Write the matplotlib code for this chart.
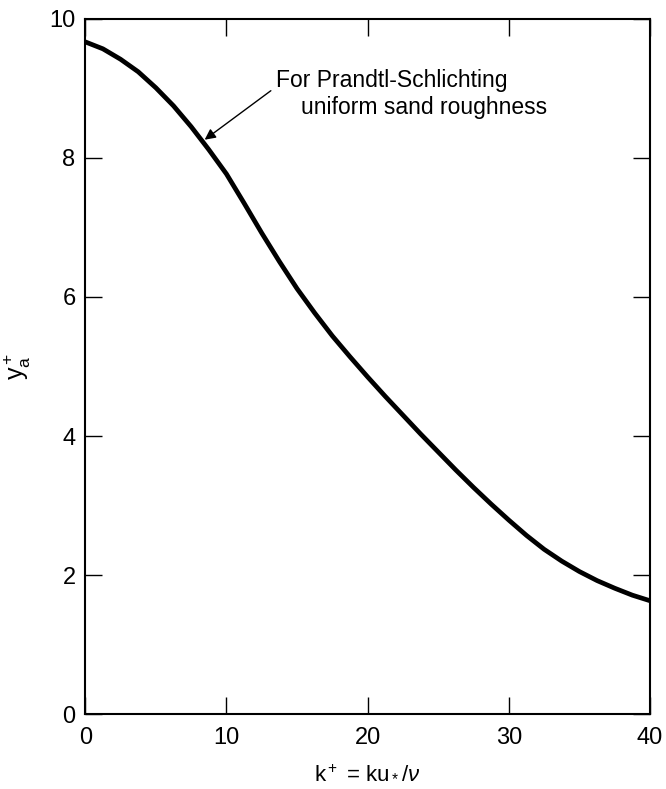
import matplotlib
matplotlib.use('Agg')
import matplotlib.pyplot as plt
import numpy as np

plt.rcParams['font.family'] = ['Liberation Sans', 'DejaVu Sans']
plt.rcParams['mathtext.fontset'] = 'custom'
plt.rcParams['mathtext.rm'] = 'Liberation Sans'
plt.rcParams['mathtext.it'] = 'Liberation Sans:italic'

# roughness Reynolds number k+ and the corresponding y_a+ (Prandtl-Schlichting sand roughness)
k_plus = [0, 1.25, 2.5, 3.75, 5, 6.25, 7.5, 8.75, 10, 11.25, 12.5, 13.75, 15,
          16.25, 17.5, 18.75, 20, 21.25, 22.5, 23.75, 25, 26.25, 27.5, 28.75,
          30, 31.25, 32.5, 33.75, 35, 36.25, 37.5, 38.75, 40]
ya_plus = [9.67, 9.57, 9.42, 9.24, 9.01, 8.75, 8.45, 8.12, 7.77, 7.35, 6.92,
           6.51, 6.12, 5.77, 5.44, 5.14, 4.85, 4.57, 4.30, 4.03, 3.77, 3.51,
           3.26, 3.02, 2.79, 2.57, 2.37, 2.20, 2.05, 1.92, 1.81, 1.71, 1.63]

x_ticks = [0, 10, 20, 30, 40]
y_ticks = [0, 2, 4, 6, 8, 10]

fig = plt.figure(figsize=(6.66, 7.89), dpi=100)
ax = fig.add_axes([0.128, 0.095, 0.848, 0.881])

ax.plot(k_plus, ya_plus, color='black', linewidth=3.4,
        solid_capstyle='butt', solid_joinstyle='round')

ax.set_xlim(0, 40)
ax.set_ylim(0, 10)
ax.set_xticks(x_ticks)
ax.set_yticks(y_ticks)
ax.tick_params(direction='in', length=12, width=1.0, labelsize=17,
               top=True, right=True, color='black')
ax.tick_params(axis='x', pad=9)
ax.tick_params(axis='y', pad=7)
for spine in ax.spines.values():
    spine.set_linewidth(1.5)

ax.set_xlabel(r'k$^+$ = ku$_*$/$\nu$', fontsize=16, labelpad=10)
ax.set_ylabel(r'$\mathregular{y_a^+}$', fontsize=18, labelpad=12)

# arrow pointing at the curve
x_arrow = 8.3
y_arrow = np.interp(x_arrow, k_plus, ya_plus)
ax.annotate('For Prandtl-Schlichting', xy=(x_arrow, y_arrow), xytext=(13.5, 9.12),
            fontsize=16.5, ha='left', va='center',
            arrowprops=dict(arrowstyle='-|>', color='black', lw=1.0,
                            mutation_scale=16, relpos=(0, 0.2), shrinkA=2, shrinkB=2))
ax.text(15.3, 8.72, 'uniform sand roughness', fontsize=16.5, ha='left', va='center')

fig.savefig('out.png', dpi=100)
